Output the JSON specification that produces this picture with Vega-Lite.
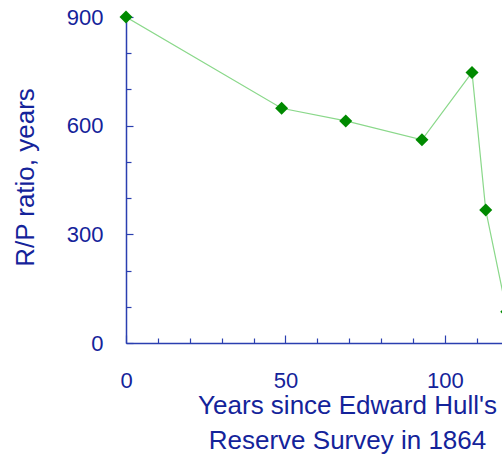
{
  "$schema": "https://vega.github.io/schema/vega-lite/v6.json",
  "autosize": {"type": "none"},
  "padding": {"left": 126, "top": 17, "right": 0, "bottom": 111},
  "width": 376,
  "height": 326,
  "background": "white",
  "config": {"view": {"stroke": null}},
  "data": {"values": [
    {"years": 0, "rp": 900},
    {"years": 48.8, "rp": 648},
    {"years": 68.9, "rp": 613},
    {"years": 92.8, "rp": 561},
    {"years": 108.5, "rp": 747},
    {"years": 112.8, "rp": 367},
    {"years": 119.4, "rp": 86}
  ]},
  "encoding": {
    "y": {
      "field": "rp", "type": "quantitative",
      "scale": {"domain": [0, 900], "nice": false},
      "axis": {
        "values": [0, 100, 200, 300, 400, 500, 600, 700, 800, 900],
        "labelExpr": "datum.value % 300 === 0 ? datum.label : ''",
        "grid": false,
        "domainColor": "#2a3fb0", "domainWidth": 1.5,
        "tickColor": "#2a3fb0", "tickWidth": 1.2,
        "tickSize": {"condition": {"test": "datum.value % 300 === 0", "value": -7}, "value": -5},
        "labelFont": "Liberation Sans", "labelFontSize": 22, "labelColor": "#14239a",
        "labelPadding": 30, "labelFlush": false, "labelOverlap": false,
        "title": "R/P ratio, years",
        "titleFont": "Liberation Sans", "titleFontSize": 26, "titleFontWeight": "normal",
        "titleColor": "#14239a", "titleAngle": -90,
        "titleX": -93, "titleY": 160, "titleAlign": "center", "titleBaseline": "alphabetic"
      }
    }
  },
  "layer": [
    {
      "mark": {"type": "line", "color": "#8ad88a", "strokeWidth": 1.2, "clip": true},
      "encoding": {
        "x": {
          "field": "years", "type": "quantitative",
          "scale": {"domain": [0, 117.9], "nice": false, "zero": false},
          "axis": {
            "orient": "bottom",
            "values": [0, 50, 100],
            "grid": false,
            "ticks": false,
            "domainColor": "#2a3fb0", "domainWidth": 1.5,
            "labelFont": "Liberation Sans", "labelFontSize": 22, "labelColor": "#14239a",
            "labelBaseline": "alphabetic", "labelPadding": 44.7, "labelFlush": false,
            "labelOverlap": false,
            "title": ["Years since Edward Hull's", "Reserve Survey in 1864"],
            "titleFont": "Liberation Sans", "titleFontSize": 26, "titleFontWeight": "normal",
            "titleColor": "#14239a", "titleLineHeight": 35,
            "titleX": 221, "titleY": 70, "titleAlign": "center", "titleBaseline": "alphabetic"
          }
        }
      }
    },
    {
      "mark": {"type": "point", "shape": "diamond", "size": 170, "filled": true, "opacity": 1, "color": "#008a00"},
      "encoding": {
        "x": {
          "field": "years", "type": "quantitative",
          "axis": {
            "orient": "bottom",
            "values": [0, 10, 20, 30, 40, 50, 60, 70, 80, 90, 100, 110],
            "grid": false,
            "domain": false,
            "labels": false,
            "title": null,
            "tickColor": "#2a3fb0", "tickWidth": 1.2,
            "tickSize": {"condition": {"test": "datum.value % 50 === 0", "value": -8}, "value": -5}
          }
        }
      }
    }
  ],
  "resolve": {"axis": {"x": "independent"}}
}
